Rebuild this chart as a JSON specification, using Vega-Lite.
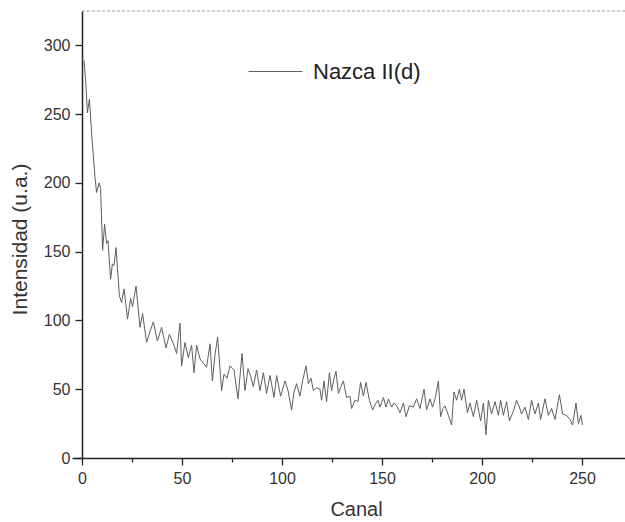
{
  "$schema": "https://vega.github.io/schema/vega-lite/v6.json",
  "width": 553,
  "height": 447,
  "autosize": {"type": "none"},
  "padding": {"left": 72, "top": 11, "right": 0, "bottom": 64},
  "background": "#ffffff",
  "config": {
    "view": {"stroke": null},
    "font": "Liberation Sans",
    "axis": {
      "domainColor": "#222222",
      "domainWidth": 1.5,
      "tickColor": "#222222",
      "tickWidth": 1.3,
      "labelColor": "#333333",
      "labelFont": "Liberation Sans",
      "labelFontSize": 16,
      "titleFont": "Liberation Sans",
      "titleFontSize": 20,
      "titleFontWeight": "normal",
      "titleColor": "#333333",
      "grid": false
    }
  },
  "datasets": {
    "espectro": [
      {"canal": 1, "intensidad": 289, "serie": "Nazca II(d)"},
      {"canal": 1.8, "intensidad": 275, "serie": "Nazca II(d)"},
      {"canal": 2.7, "intensidad": 251, "serie": "Nazca II(d)"},
      {"canal": 3.7, "intensidad": 261, "serie": "Nazca II(d)"},
      {"canal": 5, "intensidad": 232, "serie": "Nazca II(d)"},
      {"canal": 6.5, "intensidad": 204, "serie": "Nazca II(d)"},
      {"canal": 7.3, "intensidad": 193, "serie": "Nazca II(d)"},
      {"canal": 8.6, "intensidad": 200, "serie": "Nazca II(d)"},
      {"canal": 9.3, "intensidad": 196, "serie": "Nazca II(d)"},
      {"canal": 10.3, "intensidad": 151, "serie": "Nazca II(d)"},
      {"canal": 11.3, "intensidad": 170, "serie": "Nazca II(d)"},
      {"canal": 12.3, "intensidad": 156, "serie": "Nazca II(d)"},
      {"canal": 13, "intensidad": 158, "serie": "Nazca II(d)"},
      {"canal": 14.3, "intensidad": 130, "serie": "Nazca II(d)"},
      {"canal": 15.2, "intensidad": 141, "serie": "Nazca II(d)"},
      {"canal": 16, "intensidad": 140, "serie": "Nazca II(d)"},
      {"canal": 17, "intensidad": 153, "serie": "Nazca II(d)"},
      {"canal": 18.7, "intensidad": 118, "serie": "Nazca II(d)"},
      {"canal": 19.8, "intensidad": 113, "serie": "Nazca II(d)"},
      {"canal": 21, "intensidad": 123, "serie": "Nazca II(d)"},
      {"canal": 22.8, "intensidad": 101, "serie": "Nazca II(d)"},
      {"canal": 24.3, "intensidad": 116, "serie": "Nazca II(d)"},
      {"canal": 25.3, "intensidad": 110, "serie": "Nazca II(d)"},
      {"canal": 27, "intensidad": 125, "serie": "Nazca II(d)"},
      {"canal": 29, "intensidad": 95, "serie": "Nazca II(d)"},
      {"canal": 30.3, "intensidad": 105, "serie": "Nazca II(d)"},
      {"canal": 32.3, "intensidad": 84, "serie": "Nazca II(d)"},
      {"canal": 34, "intensidad": 92, "serie": "Nazca II(d)"},
      {"canal": 35.7, "intensidad": 99, "serie": "Nazca II(d)"},
      {"canal": 37.7, "intensidad": 85, "serie": "Nazca II(d)"},
      {"canal": 39.8, "intensidad": 95, "serie": "Nazca II(d)"},
      {"canal": 42, "intensidad": 80, "serie": "Nazca II(d)"},
      {"canal": 43.7, "intensidad": 90, "serie": "Nazca II(d)"},
      {"canal": 45.7, "intensidad": 83, "serie": "Nazca II(d)"},
      {"canal": 47.3, "intensidad": 76, "serie": "Nazca II(d)"},
      {"canal": 49, "intensidad": 98, "serie": "Nazca II(d)"},
      {"canal": 49.8, "intensidad": 67, "serie": "Nazca II(d)"},
      {"canal": 51.5, "intensidad": 84, "serie": "Nazca II(d)"},
      {"canal": 53.2, "intensidad": 73, "serie": "Nazca II(d)"},
      {"canal": 54.8, "intensidad": 82, "serie": "Nazca II(d)"},
      {"canal": 56, "intensidad": 62, "serie": "Nazca II(d)"},
      {"canal": 57.3, "intensidad": 82, "serie": "Nazca II(d)"},
      {"canal": 59, "intensidad": 72, "serie": "Nazca II(d)"},
      {"canal": 60.7, "intensidad": 69, "serie": "Nazca II(d)"},
      {"canal": 62.3, "intensidad": 66, "serie": "Nazca II(d)"},
      {"canal": 64, "intensidad": 83, "serie": "Nazca II(d)"},
      {"canal": 65.2, "intensidad": 56, "serie": "Nazca II(d)"},
      {"canal": 66.5, "intensidad": 75, "serie": "Nazca II(d)"},
      {"canal": 67.8, "intensidad": 88, "serie": "Nazca II(d)"},
      {"canal": 69.8, "intensidad": 49, "serie": "Nazca II(d)"},
      {"canal": 71, "intensidad": 61, "serie": "Nazca II(d)"},
      {"canal": 72.5, "intensidad": 58, "serie": "Nazca II(d)"},
      {"canal": 74, "intensidad": 67, "serie": "Nazca II(d)"},
      {"canal": 76, "intensidad": 64, "serie": "Nazca II(d)"},
      {"canal": 78, "intensidad": 43, "serie": "Nazca II(d)"},
      {"canal": 80, "intensidad": 76, "serie": "Nazca II(d)"},
      {"canal": 81.5, "intensidad": 49, "serie": "Nazca II(d)"},
      {"canal": 83, "intensidad": 65, "serie": "Nazca II(d)"},
      {"canal": 84, "intensidad": 61, "serie": "Nazca II(d)"},
      {"canal": 85.7, "intensidad": 52, "serie": "Nazca II(d)"},
      {"canal": 87.3, "intensidad": 64, "serie": "Nazca II(d)"},
      {"canal": 89, "intensidad": 49, "serie": "Nazca II(d)"},
      {"canal": 90.7, "intensidad": 62, "serie": "Nazca II(d)"},
      {"canal": 92.3, "intensidad": 47, "serie": "Nazca II(d)"},
      {"canal": 94, "intensidad": 60, "serie": "Nazca II(d)"},
      {"canal": 96, "intensidad": 44, "serie": "Nazca II(d)"},
      {"canal": 97.3, "intensidad": 60, "serie": "Nazca II(d)"},
      {"canal": 99.3, "intensidad": 45, "serie": "Nazca II(d)"},
      {"canal": 101.5, "intensidad": 56, "serie": "Nazca II(d)"},
      {"canal": 103, "intensidad": 49, "serie": "Nazca II(d)"},
      {"canal": 104.8, "intensidad": 35, "serie": "Nazca II(d)"},
      {"canal": 106, "intensidad": 48, "serie": "Nazca II(d)"},
      {"canal": 107.3, "intensidad": 54, "serie": "Nazca II(d)"},
      {"canal": 109, "intensidad": 45, "serie": "Nazca II(d)"},
      {"canal": 110.3, "intensidad": 56, "serie": "Nazca II(d)"},
      {"canal": 112, "intensidad": 67, "serie": "Nazca II(d)"},
      {"canal": 113.2, "intensidad": 54, "serie": "Nazca II(d)"},
      {"canal": 114.5, "intensidad": 58, "serie": "Nazca II(d)"},
      {"canal": 115.7, "intensidad": 49, "serie": "Nazca II(d)"},
      {"canal": 117.3, "intensidad": 51, "serie": "Nazca II(d)"},
      {"canal": 119, "intensidad": 50, "serie": "Nazca II(d)"},
      {"canal": 119.8, "intensidad": 42, "serie": "Nazca II(d)"},
      {"canal": 121, "intensidad": 56, "serie": "Nazca II(d)"},
      {"canal": 122.3, "intensidad": 41, "serie": "Nazca II(d)"},
      {"canal": 123.7, "intensidad": 62, "serie": "Nazca II(d)"},
      {"canal": 124.8, "intensidad": 49, "serie": "Nazca II(d)"},
      {"canal": 126, "intensidad": 58, "serie": "Nazca II(d)"},
      {"canal": 127, "intensidad": 63, "serie": "Nazca II(d)"},
      {"canal": 128.2, "intensidad": 47, "serie": "Nazca II(d)"},
      {"canal": 129.5, "intensidad": 52, "serie": "Nazca II(d)"},
      {"canal": 130.7, "intensidad": 56, "serie": "Nazca II(d)"},
      {"canal": 132.3, "intensidad": 44, "serie": "Nazca II(d)"},
      {"canal": 134, "intensidad": 45, "serie": "Nazca II(d)"},
      {"canal": 134.8, "intensidad": 36, "serie": "Nazca II(d)"},
      {"canal": 136.5, "intensidad": 42, "serie": "Nazca II(d)"},
      {"canal": 138, "intensidad": 41, "serie": "Nazca II(d)"},
      {"canal": 139.3, "intensidad": 55, "serie": "Nazca II(d)"},
      {"canal": 140.7, "intensidad": 45, "serie": "Nazca II(d)"},
      {"canal": 142, "intensidad": 55, "serie": "Nazca II(d)"},
      {"canal": 143.7, "intensidad": 42, "serie": "Nazca II(d)"},
      {"canal": 145.3, "intensidad": 35, "serie": "Nazca II(d)"},
      {"canal": 147, "intensidad": 40, "serie": "Nazca II(d)"},
      {"canal": 148, "intensidad": 42, "serie": "Nazca II(d)"},
      {"canal": 149, "intensidad": 37, "serie": "Nazca II(d)"},
      {"canal": 150.7, "intensidad": 44, "serie": "Nazca II(d)"},
      {"canal": 152, "intensidad": 37, "serie": "Nazca II(d)"},
      {"canal": 153.2, "intensidad": 43, "serie": "Nazca II(d)"},
      {"canal": 154.8, "intensidad": 37, "serie": "Nazca II(d)"},
      {"canal": 156, "intensidad": 40, "serie": "Nazca II(d)"},
      {"canal": 157.3, "intensidad": 38, "serie": "Nazca II(d)"},
      {"canal": 159, "intensidad": 33, "serie": "Nazca II(d)"},
      {"canal": 160.7, "intensidad": 40, "serie": "Nazca II(d)"},
      {"canal": 162, "intensidad": 30, "serie": "Nazca II(d)"},
      {"canal": 163.7, "intensidad": 38, "serie": "Nazca II(d)"},
      {"canal": 165.7, "intensidad": 37, "serie": "Nazca II(d)"},
      {"canal": 167.3, "intensidad": 43, "serie": "Nazca II(d)"},
      {"canal": 169, "intensidad": 36, "serie": "Nazca II(d)"},
      {"canal": 171, "intensidad": 50, "serie": "Nazca II(d)"},
      {"canal": 172.3, "intensidad": 35, "serie": "Nazca II(d)"},
      {"canal": 174, "intensidad": 43, "serie": "Nazca II(d)"},
      {"canal": 175.3, "intensidad": 37, "serie": "Nazca II(d)"},
      {"canal": 176.7, "intensidad": 44, "serie": "Nazca II(d)"},
      {"canal": 178.2, "intensidad": 56, "serie": "Nazca II(d)"},
      {"canal": 179.3, "intensidad": 30, "serie": "Nazca II(d)"},
      {"canal": 180.5, "intensidad": 36, "serie": "Nazca II(d)"},
      {"canal": 181.5, "intensidad": 38, "serie": "Nazca II(d)"},
      {"canal": 183.2, "intensidad": 31, "serie": "Nazca II(d)"},
      {"canal": 184.8, "intensidad": 24, "serie": "Nazca II(d)"},
      {"canal": 186, "intensidad": 48, "serie": "Nazca II(d)"},
      {"canal": 187.3, "intensidad": 42, "serie": "Nazca II(d)"},
      {"canal": 188.7, "intensidad": 50, "serie": "Nazca II(d)"},
      {"canal": 189.8, "intensidad": 42, "serie": "Nazca II(d)"},
      {"canal": 191, "intensidad": 50, "serie": "Nazca II(d)"},
      {"canal": 192.7, "intensidad": 33, "serie": "Nazca II(d)"},
      {"canal": 194, "intensidad": 40, "serie": "Nazca II(d)"},
      {"canal": 195.7, "intensidad": 30, "serie": "Nazca II(d)"},
      {"canal": 197.3, "intensidad": 42, "serie": "Nazca II(d)"},
      {"canal": 199.3, "intensidad": 27, "serie": "Nazca II(d)"},
      {"canal": 200.7, "intensidad": 40, "serie": "Nazca II(d)"},
      {"canal": 202, "intensidad": 17, "serie": "Nazca II(d)"},
      {"canal": 203.2, "intensidad": 42, "serie": "Nazca II(d)"},
      {"canal": 204.8, "intensidad": 32, "serie": "Nazca II(d)"},
      {"canal": 206.5, "intensidad": 41, "serie": "Nazca II(d)"},
      {"canal": 208.2, "intensidad": 31, "serie": "Nazca II(d)"},
      {"canal": 209.3, "intensidad": 42, "serie": "Nazca II(d)"},
      {"canal": 210.7, "intensidad": 31, "serie": "Nazca II(d)"},
      {"canal": 212.3, "intensidad": 41, "serie": "Nazca II(d)"},
      {"canal": 213.7, "intensidad": 27, "serie": "Nazca II(d)"},
      {"canal": 215.7, "intensidad": 34, "serie": "Nazca II(d)"},
      {"canal": 217.3, "intensidad": 42, "serie": "Nazca II(d)"},
      {"canal": 218.7, "intensidad": 37, "serie": "Nazca II(d)"},
      {"canal": 219.8, "intensidad": 32, "serie": "Nazca II(d)"},
      {"canal": 221.5, "intensidad": 37, "serie": "Nazca II(d)"},
      {"canal": 223.2, "intensidad": 28, "serie": "Nazca II(d)"},
      {"canal": 224.8, "intensidad": 42, "serie": "Nazca II(d)"},
      {"canal": 226.5, "intensidad": 32, "serie": "Nazca II(d)"},
      {"canal": 228.2, "intensidad": 40, "serie": "Nazca II(d)"},
      {"canal": 229.3, "intensidad": 28, "serie": "Nazca II(d)"},
      {"canal": 231.5, "intensidad": 43, "serie": "Nazca II(d)"},
      {"canal": 233.2, "intensidad": 31, "serie": "Nazca II(d)"},
      {"canal": 234.8, "intensidad": 36, "serie": "Nazca II(d)"},
      {"canal": 236.5, "intensidad": 28, "serie": "Nazca II(d)"},
      {"canal": 238.7, "intensidad": 46, "serie": "Nazca II(d)"},
      {"canal": 240.3, "intensidad": 32, "serie": "Nazca II(d)"},
      {"canal": 242.3, "intensidad": 31, "serie": "Nazca II(d)"},
      {"canal": 244, "intensidad": 28, "serie": "Nazca II(d)"},
      {"canal": 245.3, "intensidad": 24, "serie": "Nazca II(d)"},
      {"canal": 247, "intensidad": 40, "serie": "Nazca II(d)"},
      {"canal": 248.2, "intensidad": 25, "serie": "Nazca II(d)"},
      {"canal": 249.5, "intensidad": 31, "serie": "Nazca II(d)"},
      {"canal": 250.2, "intensidad": 24, "serie": "Nazca II(d)"}
    ]
  },
  "layer": [
    {
      "data": {"values": [{"borde": "superior"}]},
      "mark": {"type": "rule", "color": "#9a9a9a", "strokeWidth": 1, "strokeDash": [3, 2]},
      "encoding": {
        "y": {"datum": 325, "type": "quantitative", "scale": {"domain": [0, 325], "nice": false, "zero": false}},
        "x": {"datum": 0, "type": "quantitative", "scale": {"domain": [-5, 271.5], "nice": false, "zero": false}},
        "x2": {"datum": 271.5}
      }
    },
    {
      "data": {"name": "espectro"},
      "mark": {"type": "line", "strokeWidth": 1, "interpolate": "linear"},
      "encoding": {
        "x": {
          "field": "canal",
          "type": "quantitative",
          "scale": {"domain": [-5, 271.5], "nice": false, "zero": false},
          "axis": {
            "title": "Canal",
            "values": [0, 25, 50, 75, 100, 125, 150, 175, 200, 225, 250],
            "labelExpr": "datum.value % 50 === 0 ? datum.label : ''",
            "tickSize": {"condition": {"test": "datum.value % 50 !== 0", "value": 4}, "value": 7},
            "labelPadding": 5,
            "labelFlush": false,
            "titleX": 284,
            "titleY": 57,
            "titleBaseline": "alphabetic",
            "titleAnchor": "start",
            "titleAlign": "center"
          }
        },
        "y": {
          "field": "intensidad",
          "type": "quantitative",
          "scale": {"domain": [0, 325], "nice": false, "zero": false},
          "axis": {
            "title": "Intensidad (u.a.)",
            "offset": -10,
            "values": [0, 25, 50, 75, 100, 125, 150, 175, 200, 225, 250, 275, 300],
            "labelExpr": "datum.value % 50 === 0 ? datum.label : ''",
            "tickSize": {"condition": {"test": "datum.value % 50 !== 0", "value": 4}, "value": 7},
            "labelPadding": 5,
            "labelFlush": false,
            "titleFontSize": 21,
            "titleX": -62,
            "titleY": 228,
            "titleAngle": -90,
            "titleAlign": "center",
            "titleBaseline": "middle",
            "titleAnchor": "start"
          }
        },
        "color": {
          "field": "serie",
          "type": "nominal",
          "scale": {"range": ["#5e5e5e"]},
          "legend": {
            "title": null,
            "orient": "none",
            "legendX": 176,
            "legendY": 33,
            "padding": 0,
            "symbolType": "stroke",
            "symbolSize": 2916,
            "symbolStrokeWidth": 1,
            "symbolStrokeColor": "#9c9383",
            "labelFont": "Liberation Sans",
            "labelFontSize": 22,
            "labelColor": "#222222",
            "labelOffset": 10
          }
        }
      }
    }
  ]
}
